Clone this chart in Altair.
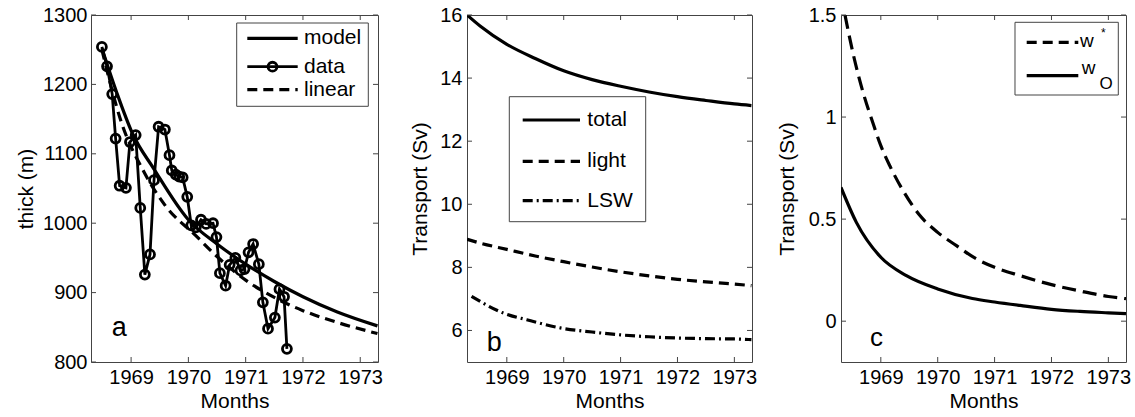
import altair as alt
import pandas as pd

FONT = "Liberation Sans, Arial, Helvetica, sans-serif"
FRAME = "#444444"

# ---------------- data ----------------
# panel a: observed thickness (monthly)
data_year = [1968.49, 1968.58, 1968.67, 1968.73, 1968.80, 1968.91, 1968.98, 1969.08, 1969.16,
             1969.24, 1969.33, 1969.40, 1969.48, 1969.59, 1969.67, 1969.71, 1969.78, 1969.84,
             1969.90, 1969.98, 1970.05, 1970.13, 1970.22, 1970.31, 1970.43, 1970.49, 1970.55,
             1970.65, 1970.72, 1970.82, 1970.91, 1970.98, 1971.05, 1971.13, 1971.23, 1971.30,
             1971.39, 1971.51, 1971.59, 1971.67, 1971.72]
data_thick = [1254, 1226, 1186, 1122, 1054, 1051, 1117, 1127, 1022,
              926, 955, 1062, 1139, 1135, 1098, 1076, 1070, 1067,
              1066, 1038, 997, 994, 1005, 999, 1000, 980, 928,
              910, 940, 950, 932, 934, 958, 970, 941, 886,
              848, 864, 905, 894, 819]
model_year = [1968.49, 1968.75, 1969.02, 1969.40, 1970.00, 1970.50, 1971.00, 1971.50, 1972.00, 1972.60, 1973.30]
model_thick = [1252, 1188, 1130, 1078, 1005, 970, 941, 916, 894, 872, 852]
linear_year = [1968.49, 1968.82, 1969.23, 1969.60, 1970.13, 1970.50, 1971.00, 1971.50, 1972.00, 1972.60, 1973.30]
linear_thick = [1250, 1148, 1073, 1025, 982, 952, 918, 893, 874, 857, 841]

# panel b: transports (Sv)
b_year = [1968.30, 1968.53, 1969.00, 1969.50, 1970.00, 1970.50, 1971.00, 1971.50, 1972.00, 1972.50, 1973.00, 1973.30]
total_sv = [16.0, 15.65, 15.07, 14.62, 14.23, 13.95, 13.74, 13.56, 13.41, 13.29, 13.18, 13.13]
light_sv = [8.89, 8.77, 8.57, 8.36, 8.18, 8.01, 7.86, 7.73, 7.62, 7.54, 7.47, 7.42]
lsw_year = [1968.38, 1968.94, 1969.35, 1969.94, 1970.50, 1971.00, 1971.50, 1972.00, 1972.50, 1973.00, 1973.30]
lsw_sv = [7.08, 6.55, 6.34, 6.08, 5.95, 5.86, 5.80, 5.76, 5.74, 5.73, 5.71]

# panel c: w* and w_O (Sv)
wstar_year = [1968.37, 1968.51, 1968.69, 1968.86, 1969.00, 1969.16, 1969.39, 1969.68, 1970.00,
              1970.33, 1970.68, 1971.00, 1971.45, 1972.00, 1972.50, 1973.00, 1973.31]
wstar_sv = [1.50, 1.314, 1.119, 0.972, 0.86, 0.76, 0.64, 0.52, 0.435,
            0.370, 0.305, 0.264, 0.223, 0.179, 0.148, 0.121, 0.110]
wo_year = [1968.30, 1968.57, 1969.00, 1969.45, 1970.00, 1970.61, 1971.00, 1971.45, 1972.00, 1972.50, 1973.00, 1973.31]
wo_sv = [0.655, 0.484, 0.313, 0.223, 0.158, 0.111, 0.094, 0.077, 0.058, 0.048, 0.041, 0.037]

x_ticks = [1969, 1970, 1971, 1972, 1973]
a_yticks = [800, 900, 1000, 1100, 1200, 1300]
b_yticks = [6, 8, 10, 12, 14, 16]
c_yticks = [0, 0.5, 1, 1.5]

X_DOMAIN = [1968.30, 1973.31]
H = 347
one = pd.DataFrame({"k": [0]})


def df(xs, ys):
    return pd.DataFrame({"x": xs, "y": ys})


class Panel:
    def __init__(self, ydom, yticks, ytitle, lpad, tpad):
        self.ydom = ydom
        self.yticks = yticks
        self.xaxis = alt.Axis(
            values=x_ticks, format="d", title="Months", ticks=False, tickSize=0, domain=False,
            grid=False, labelFontSize=20, titleFontSize=21, labelFont=FONT, titleFont=FONT,
            labelColor="black", titleColor="black", titleFontWeight="normal",
            labelPadding=5, titlePadding=3, labelFlush=False, labelOverlap=False)
        self.yaxis = alt.Axis(
            values=yticks, format="~r", title=ytitle, ticks=False, tickSize=0, domain=False,
            grid=False, labelFontSize=20, titleFontSize=21, labelFont=FONT, titleFont=FONT,
            labelColor="black", titleColor="black", titleFontWeight="normal",
            labelPadding=lpad, titlePadding=tpad, labelOverlap=False)

    def X(self):
        return alt.X("x:Q", scale=alt.Scale(domain=X_DOMAIN, nice=False, zero=False), axis=self.xaxis)

    def Y(self):
        return alt.Y("y:Q", scale=alt.Scale(domain=self.ydom, nice=False, zero=False), axis=self.yaxis)

    def curve(self, xs, ys, dash=None, width=3.2):
        kw = dict(color="black", strokeWidth=width, interpolate="monotone", clip=True)
        if dash:
            kw["strokeDash"] = dash
        return alt.Chart(df(xs, ys)).mark_line(**kw).encode(x=self.X(), y=self.Y())

    def ticks(self, W):
        L = 5
        dx = pd.DataFrame({"x": x_ticks})
        dy = pd.DataFrame({"y": self.yticks})
        r = dict(color=FRAME, strokeWidth=1)
        return [
            alt.Chart(dx).mark_rule(**r).encode(x=self.X(), y=alt.value(0), y2=alt.value(L)),
            alt.Chart(dx).mark_rule(**r).encode(x=self.X(), y=alt.value(H), y2=alt.value(H - L)),
            alt.Chart(dy).mark_rule(**r).encode(y=self.Y(), x=alt.value(0), x2=alt.value(L)),
            alt.Chart(dy).mark_rule(**r).encode(y=self.Y(), x=alt.value(W), x2=alt.value(W - L)),
        ]


def box(x1, x2, y1, y2):
    return alt.Chart(one).mark_rect(fill="white", stroke=FRAME, strokeWidth=1).encode(
        x=alt.value(x1), x2=alt.value(x2), y=alt.value(y1), y2=alt.value(y2))


def hline(x1, x2, y, dash=None, width=3.2):
    kw = dict(color="black", strokeWidth=width)
    if dash:
        kw["strokeDash"] = dash
    return alt.Chart(one).mark_rule(**kw).encode(x=alt.value(x1), x2=alt.value(x2), y=alt.value(y))


def text(t, x, y, size=21, baseline="middle", align="left"):
    return alt.Chart(one).mark_text(text=t, font=FONT, fontSize=size, align=align,
                                    baseline=baseline, color="black").encode(
        x=alt.value(x), y=alt.value(y))


DASH = [10, 6]
DASHDOT = [10, 4, 2, 4]
PT = dict(shape="circle", filled=False, size=80, strokeWidth=2.8, color="black", opacity=1)

# ---------------- panel a ----------------
WA = 287
A = Panel([800, 1300], a_yticks, "thick (m)", 4, 6)
pa = alt.layer(
    A.curve(model_year, model_thick),
    A.curve(linear_year, linear_thick, dash=DASH),
    alt.Chart(df(data_year, data_thick)).mark_line(color="black", strokeWidth=2.8, clip=True).encode(
        x=A.X(), y=A.Y()),
    alt.Chart(df(data_year, data_thick)).mark_point(clip=True, **PT).encode(x=A.X(), y=A.Y()),
    *A.ticks(WA),
    box(145.7, 277.3, 8, 91.3),
    hline(156.3, 206.7, 23.3),
    hline(156.3, 206.7, 51.7, width=2.8),
    alt.Chart(one).mark_point(**PT).encode(x=alt.value(181.5), y=alt.value(51.7)),
    hline(156.3, 206.7, 74.7, dash=DASH),
    text("model", 213, 23.3),
    text("data", 213, 51.7),
    text("linear", 213, 74.7),
    text("a", 20.7, 320.7, size=27, baseline="alphabetic"),
).properties(width=WA, height=H)

# ---------------- panel b ----------------
WB = 285
B = Panel([5, 16], b_yticks, "Transport (Sv)", 5, 9)
pb = alt.layer(
    B.curve(b_year, total_sv),
    B.curve(b_year, light_sv, dash=DASH),
    B.curve(lsw_year, lsw_sv, dash=DASHDOT),
    *B.ticks(WB),
    box(42.3, 178.7, 81.7, 206.7),
    hline(55.7, 113, 105),
    hline(55.7, 113, 146.3, dash=DASH),
    hline(55.7, 113, 185.7, dash=DASHDOT),
    text("total", 120.3, 105),
    text("light", 120.3, 146.3),
    text("LSW", 120.3, 185.7),
    text("b", 19.7, 335.7, size=27, baseline="alphabetic"),
).properties(width=WB, height=H)

# ---------------- panel c ----------------
WC = 285
C = Panel([-0.2, 1.5], c_yticks, "Transport (Sv)", 5, 11)
pc = alt.layer(
    C.curve(wstar_year, wstar_sv, dash=[14, 7]),
    C.curve(wo_year, wo_sv),
    *C.ticks(WC),
    box(174, 277.3, 7.3, 80),
    hline(185.7, 237.3, 27.3, dash=DASH),
    hline(185.7, 237.3, 60.7),
    text("w", 239, 32.3, size=19, baseline="alphabetic"),
    text("*", 260, 22, size=12, baseline="alphabetic"),
    text("w", 240.7, 59, size=19, baseline="alphabetic"),
    text("O", 258.5, 74, size=17, baseline="alphabetic"),
    text("c", 29, 330.7, size=26, baseline="alphabetic"),
).properties(width=WC, height=H)

chart = alt.hconcat(pa, pb, pc, spacing=89, bounds="flush").configure(
    padding={"left": 15, "top": 4, "right": 0, "bottom": 0},
    background="white",
).configure_view(stroke=FRAME, strokeWidth=1)

chart.save("out.html", embed_options={"renderer": "svg", "actions": False})
